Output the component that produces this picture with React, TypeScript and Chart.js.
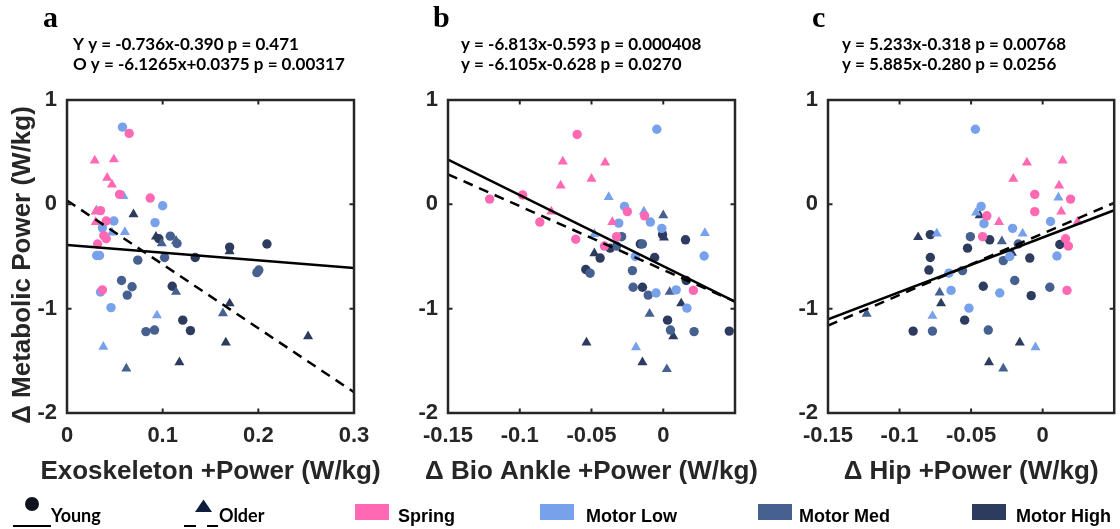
import React, { useEffect, useRef } from 'react';
import { Chart, registerables } from 'chart.js';

Chart.register(...registerables);

type Pt = [number, number];

// ---------- Panel a: Exoskeleton +Power ----------
const aSpringYoung: Pt[] = [[0.065, 0.68], [0.087, 0.06], [0.055, 0.095], [0.035, -0.06], [0.041, -0.16], [0.0385, -0.3], [0.041, -0.33], [0.032, -0.38], [0.037, -0.82]];
const aSpringOlder: Pt[] = [[0.029, 0.42], [0.049, 0.43], [0.042, 0.255], [0.047, 0.19], [0.03, -0.07], [0.03, -0.17]];
const aLowYoung: Pt[] = [[0.058, 0.74], [0.1, -0.014], [0.092, -0.175], [0.049, -0.16], [0.037, -0.225], [0.031, -0.49], [0.034, -0.49], [0.035, -0.84], [0.046, -0.99]];
const aLowOlder: Pt[] = [[0.059, 0.08], [0.031, -0.06], [0.047, -0.27], [0.0605, -0.265], [0.094, -1.065], [0.038, -1.365]];
const aMedYoung: Pt[] = [[0.108, -0.305], [0.115, -0.375], [0.102, -0.51], [0.074, -0.535], [0.057, -0.73], [0.068, -0.79], [0.063, -0.87], [0.0825, -1.22], [0.0915, -1.205], [0.1985, -0.655], [0.2005, -0.63]];
const aMedOlder: Pt[] = [[0.099, -0.375], [0.114, -0.35], [0.114, -0.84], [0.163, -1.045], [0.062, -1.575]];
const aHighYoung: Pt[] = [[0.096, -0.33], [0.17, -0.41], [0.209, -0.38], [0.134, -0.51], [0.11, -0.785], [0.121, -1.11], [0.129, -1.21]];
const aHighOlder: Pt[] = [[0.0695, -0.095], [0.093, -0.31], [0.17, -0.95], [0.166, -1.325], [0.1175, -1.515], [0.252, -1.265], [0.17, -0.45]];

// ---------- Panel b: Δ Bio Ankle +Power ----------
const bSpringYoung: Pt[] = [[-0.06, 0.67], [-0.121, 0.05], [-0.098, 0.09], [-0.086, -0.17], [-0.061, -0.335], [-0.025, -0.07], [-0.013, -0.11], [-0.0325, -0.31], [-0.041, -0.4], [0.021, -0.825]];
const bSpringOlder: Pt[] = [[-0.07, 0.41], [-0.0405, 0.4], [-0.05, 0.245], [-0.0715, 0.18], [-0.078, -0.07], [-0.0355, -0.17]];
const bLowYoung: Pt[] = [[-0.0045, 0.72], [-0.027, -0.02], [-0.031, -0.18], [-0.009, -0.17], [-0.001, -0.23], [0.0285, -0.495], [-0.0195, -0.5], [-0.005, -0.85], [0.009, -0.82], [0.0165, -0.995]];
const bLowOlder: Pt[] = [[-0.038, 0.07], [-0.0135, -0.07], [0.029, -0.275], [-0.048, -0.285], [-0.019, -1.37]];
const bMedYoung: Pt[] = [[-0.029, -0.31], [-0.051, -0.66], [-0.0215, -0.635], [-0.021, -0.795], [-0.0105, -0.87], [0.005, -1.205], [0.0215, -1.22], [-0.0325, -0.4], [-0.0145, -0.38]];
const bMedOlder: Pt[] = [[0.0, -0.105], [-0.0095, -1.05], [0.0045, -0.84], [0.0025, -1.58]];
const bHighYoung: Pt[] = [[-0.016, -0.38], [-0.044, -0.515], [-0.054, -0.625], [-0.037, -0.42], [-0.006, -0.51], [-0.0005, -0.29], [0.0155, -0.34], [-0.0145, -0.795], [0.003, -1.11], [0.046, -1.215], [0.016, -0.73]];
const bHighOlder: Pt[] = [[-0.048, -0.47], [0.0005, -0.32], [0.0125, -0.95], [0.007, -1.265], [-0.0535, -1.325], [-0.0145, -1.515]];

// ---------- Panel c: Δ Hip +Power ----------
const cSpringYoung: Pt[] = [[-0.0055, 0.095], [-0.0055, -0.07], [-0.039, -0.11], [-0.042, -0.31], [0.0195, 0.05], [0.016, -0.33], [0.018, -0.4], [0.017, -0.825]];
const cSpringOlder: Pt[] = [[-0.011, 0.4], [0.014, 0.42], [-0.0205, 0.245], [0.0115, 0.18], [0.013, -0.07], [-0.0305, -0.17], [0.0245, -0.165]];
const cLowYoung: Pt[] = [[-0.047, 0.72], [-0.043, -0.02], [-0.041, -0.185], [-0.021, -0.23], [0.0055, -0.165], [0.01, -0.495], [-0.023, -0.5], [-0.064, -0.825], [-0.03, -0.85], [-0.0515, -0.995], [-0.0655, -0.66]];
const cLowOlder: Pt[] = [[-0.0465, -0.08], [-0.074, -0.28], [-0.014, -0.28], [0.011, 0.065], [-0.077, -1.07], [-0.005, -1.37]];
const cMedYoung: Pt[] = [[-0.077, -1.215], [-0.038, -1.205], [-0.056, -0.635], [-0.0505, -0.31], [-0.0275, -0.54], [-0.0195, -0.73], [0.005, -0.795], [-0.017, -0.38]];
const cMedOlder: Pt[] = [[-0.123, -1.05], [-0.072, -0.845], [-0.0285, -0.355], [-0.0275, -1.575]];
const cHighYoung: Pt[] = [[-0.0785, -0.29], [-0.0785, -0.51], [-0.0795, -0.63], [-0.0905, -1.215], [-0.0545, -1.11], [-0.0525, -0.42], [-0.037, -0.34], [-0.0415, -0.785], [-0.009, -0.515], [-0.008, -0.875], [0.012, -0.385]];
const cHighOlder: Pt[] = [[-0.087, -0.315], [-0.044, -0.105], [-0.071, -0.95], [-0.0215, -0.465], [-0.016, -1.325], [-0.0375, -1.515]];

// ---------- regression fits: [slope, intercept] ----------
const aFitYoung = [-0.736, -0.39];
const aFitOlder = [-6.1265, 0.0375];
const bFitYoung = [-6.813, -0.593];
const bFitOlder = [-6.105, -0.628];
const cFitYoung = [5.233, -0.318];
const cFitOlder = [5.885, -0.28];

const aEquations = ['Y y = -0.736x-0.390 p = 0.471', 'O y = -6.1265x+0.0375 p = 0.00317'];
const bEquations = ['y = -6.813x-0.593 p = 0.000408', 'y = -6.105x-0.628 p = 0.0270'];
const cEquations = ['y = 5.233x-0.318 p = 0.00768', 'y = 5.885x-0.280 p = 0.0256'];

// ---------- axes ----------
const yTicks = [-2, -1, 0, 1];
const aXTicks = [0, 0.1, 0.2, 0.3];
const bcXTicks = [-0.15, -0.1, -0.05, 0];
const yTitle = '\u0394 Metabolic Power (W/kg)';
const xTitles = ['Exoskeleton +Power (W/kg)', '\u0394 Bio Ankle +Power (W/kg)', '\u0394 Hip +Power (W/kg)'];
const panelLetters = ['a', 'b', 'c'];

// ---------- legend ----------
const groupNames = ['Spring', 'Motor Low', 'Motor Med', 'Motor High'];
const groupColors = ['#FF69B4', '#78A1EC', '#46608F', '#2C3B5E'];
const ageNames = ['Young', 'Older'];

interface PanelDef {
  xMin: number; xMax: number; xTicks: number[];
  young: Pt[][]; older: Pt[][];
  fitYoung: number[]; fitOlder: number[];
  equations: string[]; letter: string; xTitle: string; showYTitle: boolean;
}

const panels: PanelDef[] = [
  { xMin: 0, xMax: 0.3, xTicks: aXTicks, young: [aSpringYoung, aLowYoung, aMedYoung, aHighYoung], older: [aSpringOlder, aLowOlder, aMedOlder, aHighOlder], fitYoung: aFitYoung, fitOlder: aFitOlder, equations: aEquations, letter: panelLetters[0], xTitle: xTitles[0], showYTitle: true },
  { xMin: -0.15, xMax: 0.05, xTicks: bcXTicks, young: [bSpringYoung, bLowYoung, bMedYoung, bHighYoung], older: [bSpringOlder, bLowOlder, bMedOlder, bHighOlder], fitYoung: bFitYoung, fitOlder: bFitOlder, equations: bEquations, letter: panelLetters[1], xTitle: xTitles[1], showYTitle: false },
  { xMin: -0.15, xMax: 0.05, xTicks: bcXTicks, young: [cSpringYoung, cLowYoung, cMedYoung, cHighYoung], older: [cSpringOlder, cLowOlder, cMedOlder, cHighOlder], fitYoung: cFitYoung, fitOlder: cFitOlder, equations: cEquations, letter: panelLetters[2], xTitle: xTitles[2], showYTitle: false },
];

// layout (pixels, relative to each canvas)
const layouts = [
  { left: 0, width: 400, yAxisWidth: 67, padRight: 46, letterX: 43, eqX: 73 },
  { left: 380, width: 400, yAxisWidth: 68, padRight: 45, letterX: 53, eqX: 81 },
  { left: 760, width: 360, yAxisWidth: 68, padRight: 5, letterX: 52, eqX: 82 },
];

const SANS = '"Liberation Sans", Arial, Helvetica, sans-serif';
const AXIS_COLOR = '#262626';

function fmt(v: number) {
  return String(Math.round(v * 1000) / 1000);
}

const decorPlugin = {
  id: 'panelDecor',
  afterDatasetsDraw(chart: any, _args: any, opts: any) {
    const { ctx, chartArea } = chart;
    const { left, right, top, bottom } = chartArea;
    const xs = chart.scales.x;
    const ys = chart.scales.y;
    ctx.save();
    // box
    ctx.strokeStyle = AXIS_COLOR;
    ctx.lineWidth = 2.5;
    ctx.strokeRect(left, top, right - left, bottom - top);
    // inward ticks
    ctx.lineWidth = 2;
    ctx.beginPath();
    const tl = 4.5;
    for (const v of opts.xTicks as number[]) {
      const px = xs.getPixelForValue(v);
      if (px <= left + 2 || px >= right - 2) continue;
      ctx.moveTo(px, bottom); ctx.lineTo(px, bottom - tl);
      ctx.moveTo(px, top); ctx.lineTo(px, top + tl);
    }
    for (const v of opts.yTicks as number[]) {
      const py = ys.getPixelForValue(v);
      if (py <= top + 2 || py >= bottom - 2) continue;
      ctx.moveTo(left, py); ctx.lineTo(left + tl, py);
      ctx.moveTo(right, py); ctx.lineTo(right - tl, py);
    }
    ctx.stroke();
    // panel letter
    ctx.fillStyle = '#000';
    ctx.textAlign = 'left';
    ctx.textBaseline = 'alphabetic';
    ctx.font = 'bold 30px "Liberation Serif", "Times New Roman", serif';
    ctx.fillText(opts.letter, opts.letterX, 27);
    // equations
    ctx.font = 'bold 17px Lato, "Open Sans", sans-serif';
    (opts.equations as string[]).forEach((t, i) => ctx.fillText(t, opts.eqX, 50 + i * 20));
    // x title
    ctx.fillStyle = AXIS_COLOR;
    ctx.font = `bold 26px ${SANS}`;
    ctx.textAlign = 'center';
    ctx.fillText(opts.xTitle, (left + right) / 2, 479);
    // y title
    if (opts.showYTitle) {
      ctx.translate(23, 265);
      ctx.rotate(-Math.PI / 2);
      ctx.textBaseline = 'middle';
      ctx.fillText(opts.yTitle, 0, 0);
    }
    ctx.restore();
  },
};

function fitLine(fit: number[], xMin: number, xMax: number) {
  return [xMin, xMax].map((x) => ({ x, y: fit[0] * x + fit[1] }));
}

function buildConfig(p: PanelDef, lay: any): any {
  const datasets: any[] = [
    { data: fitLine(p.fitYoung, p.xMin, p.xMax), showLine: true, borderColor: '#000', borderWidth: 2.5, pointRadius: 0, fill: false },
    { data: fitLine(p.fitOlder, p.xMin, p.xMax), showLine: true, borderColor: '#000', borderWidth: 2.5, borderDash: [10, 7], pointRadius: 0, fill: false },
  ];
  groupNames.forEach((name, gi) => {
    datasets.push({
      label: name + ' Young',
      data: p.young[gi].map(([x, y]) => ({ x, y })),
      pointStyle: 'circle', pointRadius: 4.7, pointBorderWidth: 0,
      backgroundColor: groupColors[gi], borderColor: groupColors[gi], showLine: false,
    });
    datasets.push({
      label: name + ' Older',
      data: p.older[gi].map(([x, y]) => ({ x, y })),
      pointStyle: 'triangle', pointRadius: 5.8, pointBorderWidth: 0,
      backgroundColor: groupColors[gi], borderColor: groupColors[gi], showLine: false,
    });
  });
  const tickFont = { family: SANS, size: 22, weight: 'bold' };
  return {
    type: 'scatter',
    data: { datasets },
    plugins: [decorPlugin],
    options: {
      animation: false,
      responsive: false,
      events: [],
      layout: { padding: { left: 0, right: lay.padRight, top: 100, bottom: 0 } },
      plugins: {
        legend: { display: false },
        tooltip: { enabled: false },
        title: { display: false },
        panelDecor: {
          xTicks: p.xTicks, yTicks, letter: p.letter, letterX: lay.letterX, eqX: lay.eqX,
          equations: p.equations, xTitle: p.xTitle, yTitle, showYTitle: p.showYTitle,
        },
      },
      scales: {
        x: {
          type: 'linear', min: p.xMin, max: p.xMax,
          afterBuildTicks: (s: any) => { s.ticks = p.xTicks.map((v) => ({ value: v })); },
          afterFit: (s: any) => { s.height = 116; },
          grid: { display: false, drawTicks: false },
          border: { display: false },
          ticks: { font: tickFont, color: AXIS_COLOR, padding: 10, maxRotation: 0, autoSkip: false, callback: (v: any) => fmt(Number(v)) },
        },
        y: {
          type: 'linear', min: -2, max: 1,
          afterBuildTicks: (s: any) => { s.ticks = yTicks.map((v) => ({ value: v })); },
          afterFit: (s: any) => { s.width = lay.yAxisWidth; },
          grid: { display: false, drawTicks: false },
          border: { display: false },
          ticks: { font: tickFont, color: AXIS_COLOR, padding: 10, autoSkip: false, callback: (v: any) => fmt(Number(v)) },
        },
      },
    },
  };
}

function Panel({ def, lay }: { def: PanelDef; lay: any }) {
  const ref = useRef<HTMLCanvasElement>(null);
  useEffect(() => {
    const chart = new Chart(ref.current as HTMLCanvasElement, buildConfig(def, lay));
    return () => chart.destroy();
  }, []);
  return (
    <canvas
      ref={ref}
      width={lay.width}
      height={529}
      style={{ position: 'absolute', left: lay.left, top: 0, width: lay.width, height: 529 }}
    />
  );
}

const legendSquareX = [355, 540, 758, 972];
const legendTextX = [398, 586, 799, 1016];

function Legend() {
  const calibri = 'Lato, "Open Sans", sans-serif';
  return (
    <svg width={1120} height={39} style={{ position: 'absolute', left: 0, top: 490 }}>
      <circle cx={32} cy={14} r={7} fill="#10131c" />
      <line x1={13} x2={51} y1={36} y2={36} stroke="#000" strokeWidth={2} />
      <text x={51} y={32} fontFamily={calibri} fontWeight="bold" fontSize={18} fill="#000">{ageNames[0]}</text>
      <polygon points="203.5,9.5 195,22 212,22" fill="#0f1d3d" />
      <line x1={184} x2={196} y1={36} y2={36} stroke="#000" strokeWidth={2} />
      <line x1={207} x2={218} y1={36} y2={36} stroke="#000" strokeWidth={2} />
      <text x={219} y={32} fontFamily={calibri} fontWeight="bold" fontSize={18} fill="#000">{ageNames[1]}</text>
      {groupNames.map((n, i) => (
        <g key={n}>
          <rect x={legendSquareX[i]} y={14} width={34} height={16} fill={groupColors[i]} />
          <text x={legendTextX[i]} y={32} fontFamily={SANS} fontWeight="bold" fontSize={18} fill="#000">{n}</text>
        </g>
      ))}
    </svg>
  );
}

export default function App() {
  return (
    <div style={{ position: 'fixed', left: 0, top: 0, width: 1120, height: 529, background: '#fff', overflow: 'hidden' }}>
      {panels.map((p, i) => (
        <Panel key={i} def={p} lay={layouts[i]} />
      ))}
      <Legend />
    </div>
  );
}
